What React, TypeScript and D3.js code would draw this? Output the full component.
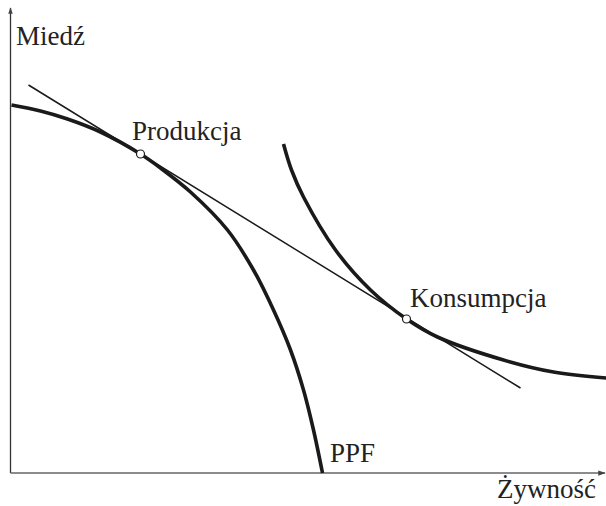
import React from 'react';
import * as d3 from 'd3';

// curve points (x = żywność, y = miedź)
const ppfX = [0.1, 3, 5.7, 9, 13, 15, 18, 21.7, 24.3, 26.3, 28, 29.3, 30.3, 31.2];
const ppfY = [36.8, 36.2, 35.4, 34.1, 31.9, 30.5, 28.1, 24.3, 20.3, 16.3, 12.3, 8.3, 4.3, 0];

const indiffX = [27.3, 28.1, 29.3, 32.5, 36, 39.6, 42.7, 49.3, 54.3, 59.6];
const indiffY = [32.9, 30.3, 27.6, 22.3, 18.3, 15.4, 13.6, 11.3, 10.1, 9.5];

const priceX = [1.8, 51];
const priceY = [38.8, 8.5];

const pointNames = ['Produkcja', 'Konsumpcja'];
const pointX = [13, 39.6];
const pointY = [31.9, 15.4];

const axisLabels = { x: 'Żywność', y: 'Miedź' };
const curveLabel = 'PPF';

const App: React.FC = () => {
  const width = 606;
  const height = 506;

  const x = d3.scaleLinear().domain([0, 60]).range([10.5, 610.5]);
  const y = d3.scaleLinear().domain([0, 46]).range([473, 13]);

  const line = d3.line<[number, number]>()
    .x(d => x(d[0]))
    .y(d => y(d[1]))
    .curve(d3.curveCatmullRom.alpha(0.5));

  const ppf = ppfX.map((v, i) => [v, ppfY[i]] as [number, number]);
  const indiff = indiffX.map((v, i) => [v, indiffY[i]] as [number, number]);
  const price = priceX.map((v, i) => [v, priceY[i]] as [number, number]);

  const font = '"Liberation Serif", "Times New Roman", serif';

  return (
    <svg width={width} height={height}
      style={{ position: 'absolute', left: 0, top: 0, background: '#fff' }}>
      <defs>
        <marker id="arr" viewBox="0 0 10 10" refX="9" refY="5"
          markerWidth="5" markerHeight="5" orient="auto">
          <path d="M0,1.5 L10,5 L0,8.5 Z" fill="#444" />
        </marker>
      </defs>

      {/* axes */}
      <line x1={x(0)} y1={y(0)} x2={x(0)} y2={8}
        stroke="#333" strokeWidth={1.3} markerEnd="url(#arr)" />
      <line x1={x(0)} y1={y(0)} x2={605} y2={y(0)}
        stroke="#666" strokeWidth={1.5} markerEnd="url(#arr)" />

      <path d={line(price) ?? ''} fill="none" stroke="#1a1a1a" strokeWidth={1.5} />
      <path d={line(ppf) ?? ''} fill="none" stroke="#1a1a1a" strokeWidth={3.6} />
      <path d={line(indiff) ?? ''} fill="none" stroke="#1a1a1a" strokeWidth={3.6} />

      {pointNames.map((n, i) => (
        <circle key={n} cx={x(pointX[i])} cy={y(pointY[i])} r={4}
          fill="#fff" stroke="#1a1a1a" strokeWidth={1.2} />
      ))}

      <g fontFamily={font} fontSize={27} fill="#222">
        <text x={132} y={140}>{pointNames[0]}</text>
        <text x={410} y={307}>{pointNames[1]}</text>
        <text x={330} y={462}>{curveLabel}</text>
        <text x={16} y={45}>{axisLabels.y}</text>
        <text x={596} y={498} textAnchor="end">{axisLabels.x}</text>
      </g>
    </svg>
  );
};

export default App;
